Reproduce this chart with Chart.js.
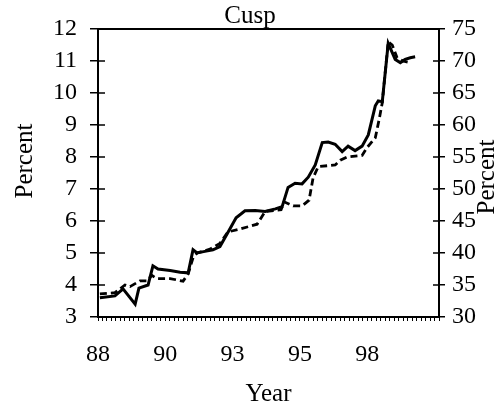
<!DOCTYPE html>
<html>
<head>
<meta charset="utf-8">
<script src="https://cdn.jsdelivr.net/npm/chart.js@4"></script>
<style>
  body { margin: 0; background: #fff; }
</style>
</head>
<body>
<canvas id="chart1" width="500" height="415"></canvas>
<script>
// solid line (left axis, percent)
const solidYears = [88.07, 88.63, 88.93, 89.38, 89.52, 89.86, 90.04, 90.23, 90.68, 91.05, 91.35, 91.53, 91.68, 91.97, 92.27, 92.53, 92.83, 93.13, 93.46, 93.84, 94.21, 94.59, 94.84, 95.06, 95.32, 95.58, 95.81, 96.07, 96.33, 96.55, 96.81, 97.07, 97.29, 97.55, 97.81, 98.04, 98.30, 98.41, 98.56, 98.78, 99.04, 99.23, 99.41, 99.60, 99.78];
const solidValues = [3.6, 3.66, 3.88, 3.4, 3.9, 4.0, 4.6, 4.5, 4.45, 4.4, 4.38, 5.1, 5.0, 5.05, 5.1, 5.2, 5.65, 6.1, 6.32, 6.33, 6.3, 6.38, 6.45, 7.05, 7.18, 7.16, 7.37, 7.75, 8.45, 8.47, 8.4, 8.17, 8.34, 8.2, 8.34, 8.69, 9.6, 9.75, 9.73, 11.55, 11.05, 10.95, 11.05, 11.1, 11.13];

// dashed line
const dashedYears = [88.07, 88.63, 89.0, 89.19, 89.56, 89.82, 90.0, 90.19, 90.68, 91.16, 91.35, 91.53, 91.68, 92.16, 92.53, 92.83, 93.28, 93.91, 94.21, 94.80, 94.91, 95.25, 95.58, 95.84, 95.99, 96.18, 96.81, 97.0, 97.26, 97.81, 98.0, 98.30, 98.45, 98.56, 98.78, 98.93, 99.11, 99.33, 99.60];
const dashedValues = [3.72, 3.76, 4.0, 3.95, 4.13, 4.13, 4.3, 4.2, 4.2, 4.12, 4.35, 4.85, 5.0, 5.12, 5.3, 5.66, 5.75, 5.9, 6.3, 6.35, 6.6, 6.47, 6.47, 6.65, 7.35, 7.7, 7.75, 7.9, 8.0, 8.05, 8.3, 8.6, 9.2, 9.7, 11.6, 11.5, 11.1, 11.0, 10.95];

const tickYears = [88, 90.5, 93, 95.5, 98];
const tickLabels = ['88', '90', '93', '95', '98'];

const serif = 'Liberation Serif';

function toPoints(xs, ys) {
    return xs.map((x, i) => ({ x: x, y: ys[i] }));
}

const frame = {
    id: 'frame',
    afterDraw(chart) {
        const { ctx, chartArea: a, scales } = chart;
        ctx.save();
        ctx.strokeStyle = '#000';
        ctx.lineWidth = 2;
        ctx.strokeRect(a.left, a.top, a.right - a.left, a.bottom - a.top);
        ctx.lineWidth = 1.5;
        scales.y.ticks.forEach(t => {
            const py = scales.y.getPixelForValue(t.value);
            ctx.beginPath();
            ctx.moveTo(a.left, py);
            ctx.lineTo(a.left + 7, py);
            ctx.moveTo(a.right - 6, py);
            ctx.lineTo(a.right, py);
            ctx.stroke();
        });
        // axis titles
        ctx.fillStyle = '#000';
        ctx.font = '25px "' + serif + '"';
        ctx.textAlign = 'center';
        ctx.textBaseline = 'middle';
        ctx.translate(25, 161);
        ctx.rotate(-Math.PI / 2);
        ctx.fillText('Percent', 0, 0);
        ctx.setTransform(1, 0, 0, 1, 0, 0);
        ctx.translate(487, 177);
        ctx.rotate(-Math.PI / 2);
        ctx.fillText('Percent', 0, 0);
        ctx.restore();
    }
};

new Chart(document.getElementById('chart1'), {
    type: 'line',
    data: {
        datasets: [{
            label: 'solid',
            data: toPoints(solidYears, solidValues),
            borderColor: '#000',
            borderWidth: 3,
            pointRadius: 0,
            tension: 0
        }, {
            label: 'dashed',
            data: toPoints(dashedYears, dashedValues),
            borderColor: '#000',
            borderWidth: 2.8,
            borderDash: [7, 4],
            pointRadius: 0,
            tension: 0
        }]
    },
    options: {
        responsive: false,
        animation: false,
        layout: { padding: 0 },
        plugins: {
            legend: { display: false },
            tooltip: { enabled: false },
            title: {
                display: true,
                text: 'Cusp',
                color: '#000',
                font: { family: serif, size: 25, weight: 'normal', lineHeight: 1 },
                padding: { top: 4, bottom: 0 }
            }
        },
        scales: {
            x: {
                type: 'linear',
                min: 88,
                max: 88 + 76 / 6,
                afterBuildTicks: (scale) => {
                    const t = [];
                    for (let k = 0; k <= 76; k++) t.push({ value: 88 + k / 6 });
                    scale.ticks = t;
                },
                afterFit: (scale) => { scale.height = 98; },
                border: { display: false },
                grid: { drawOnChartArea: false, tickLength: 4, color: '#000', lineWidth: 1 },
                ticks: {
                    autoSkip: false,
                    maxRotation: 0,
                    padding: 19,
                    color: '#000',
                    font: { family: serif, size: 24 },
                    callback: (value) => {
                        const i = tickYears.findIndex(t => Math.abs(t - value) < 0.01);
                        return i >= 0 ? tickLabels[i] : '';
                    }
                },
                title: {
                    display: true,
                    text: 'Year',
                    color: '#000',
                    font: { family: serif, size: 25, lineHeight: 1.2 },
                    padding: { top: 0, bottom: 6 }
                }
            },
            y: {
                position: 'left',
                min: 3,
                max: 12,
                afterFit: (scale) => { scale.width = 98; },
                border: { display: false },
                grid: { drawOnChartArea: false, tickLength: 8, color: '#000', lineWidth: 1.5 },
                ticks: {
                    stepSize: 1,
                    padding: 13,
                    color: '#000',
                    font: { family: serif, size: 24 }
                }
            },
            y1: {
                position: 'right',
                min: 30,
                max: 75,
                afterFit: (scale) => { scale.width = 61; },
                border: { display: false },
                grid: { drawOnChartArea: false, tickLength: 6, color: '#000', lineWidth: 1.5 },
                ticks: {
                    stepSize: 5,
                    padding: 7,
                    color: '#000',
                    font: { family: serif, size: 24 }
                }
            }
        }
    },
    plugins: [frame]
});
</script>
</body>
</html>
